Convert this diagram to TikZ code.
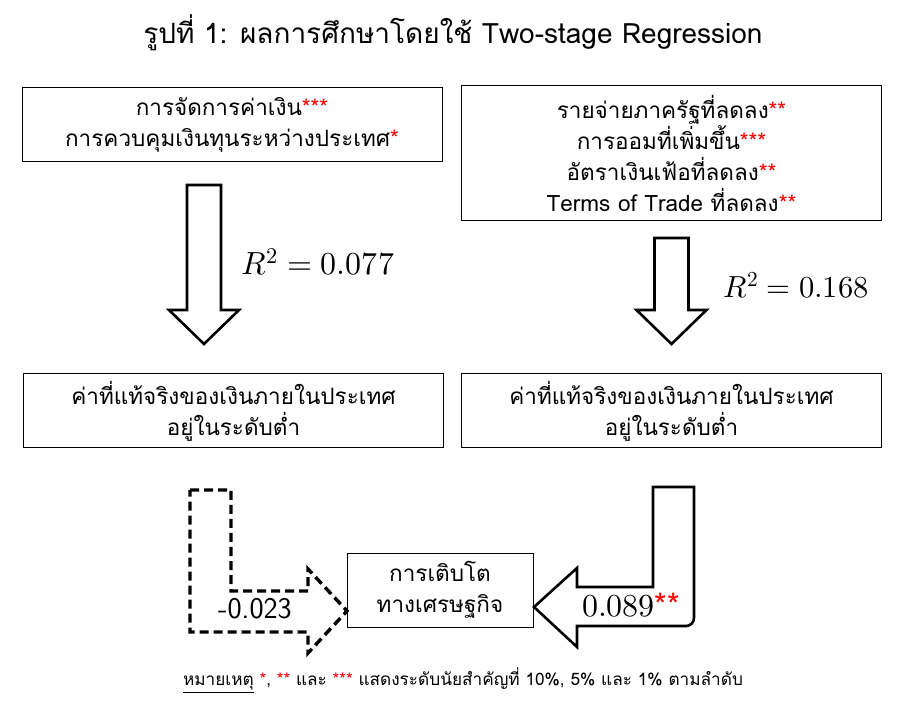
\documentclass[tikz,border=0pt]{standalone}
\usepackage{fontspec}
\usepackage{unicode-math}
\setmainfont[Script=Thai]{Loma}
\setmathfont{Latin Modern Math}
\tikzset{
    resultbox/.style={draw, line width=1pt, inner sep=0pt, minimum width=420pt,
        minimum height=74pt, align=center, font=\fontsize{22.5}{31}\selectfont},
    bigarrow/.style={draw, line width=2.6pt, fill=white, line join=miter}
}
\newcommand{\stars}[1]{\textcolor{red}{#1}}
\begin{document}
\begin{tikzpicture}[x=1pt, y=-1pt]
        \useasboundingbox (0,0) rectangle (898,703);
        \node (title) at (453,33) {\fontsize{28}{32}\selectfont รูปที่ 1: ผลการศึกษาโดยใช้ Two-stage Regression};
        % upper boxes
        \node[resultbox] (policy) at (232,124.5) {การจัดการค่าเงิน\stars{***}\\การควบคุมเงินทุนระหว่างประเทศ\stars{*}};
        \node[resultbox, minimum height=135pt] (macro) at (671.5,153.5) {รายจ่ายภาครัฐที่ลดลง\stars{**}\\การออมที่เพิ่มขึ้น\stars{***}\\อัตราเงินเฟ้อที่ลดลง\stars{**}\\Terms of Trade ที่ลดลง\stars{**}};
        % down arrows
        \foreach \cx/\top in {204/185, 671.5/238}{
            \draw[bigarrow] (\cx-17,\top) -- (\cx+17,\top) -- (\cx+17,310) -- (\cx+35,310)
                -- (\cx,344) -- (\cx-35,310) -- (\cx-17,310) -- cycle;
        }
        \node (rsqleft) at (318,262) {\fontsize{32}{36}\selectfont $R^2=0.077$};
        \node (rsqright) at (796,285) {\fontsize{30.5}{34}\selectfont $R^2=0.168$};
        % lower boxes
        \node[resultbox] (rerleft) at (233.5,411) {ค่าที่แท้จริงของเงินภายในประเทศ\\อยู่ในระดับต่ำ};
        \node[resultbox] (rerright) at (671.5,411) {ค่าที่แท้จริงของเงินภายในประเทศ\\อยู่ในระดับต่ำ};
        \node[resultbox, minimum width=186pt] (growth) at (440,590) {การเติบโต\\ทางเศรษฐกิจ};
        % L-shaped arrows into growth
        \draw[bigarrow, line width=3.4pt, dash pattern=on 9pt off 5pt] (190,490) -- (231,490) -- (231,591) -- (308,591)
            -- (308,569) -- (347,611) -- (308,653) -- (308,632) -- (190,632) -- cycle;
        \node (coefleft) at (255,609) {\fontsize{30}{34}\selectfont\sffamily -0.023};
        \draw[bigarrow] (653,487) -- (694,487) -- (694,618) to[out=-90,in=0] (686,626) -- (577,626)
            -- (577,647) -- (534,607) -- (577,568) -- (577,587) -- (653,587) -- cycle;
        \node (coefright) at (631,605) {\fontsize{32}{36}\selectfont $0.089$\stars{**}};
        % note
        \node (note) at (463,681) {\fontsize{17.2}{20}\selectfont \underline{หมายเหตุ} \stars{*}, \stars{**} และ \stars{***} แสดงระดับนัยสำคัญที่ 10\%, 5\% และ 1\% ตามลำดับ};
    \end{tikzpicture}
\end{document}
